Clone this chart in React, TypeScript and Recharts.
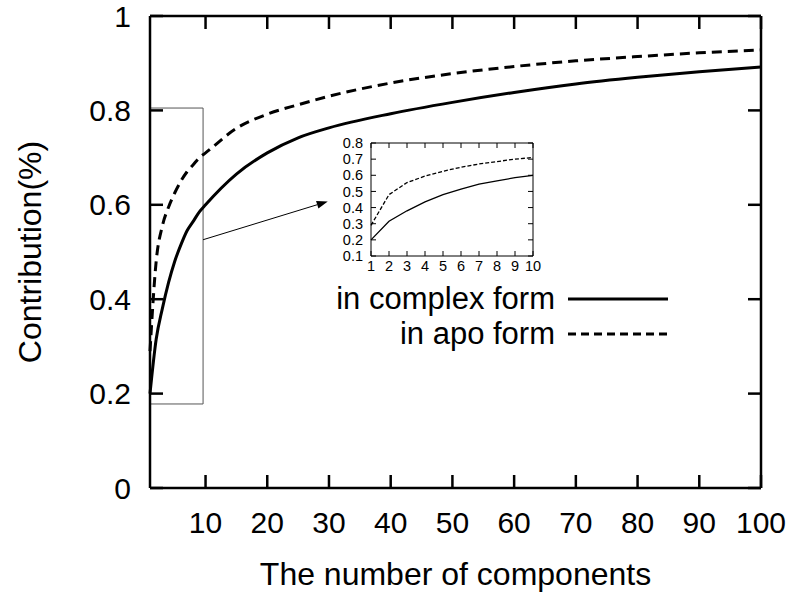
import {
  LineChart,
  Line,
  XAxis,
  YAxis,
  ReferenceArea,
  ReferenceLine,
} from "recharts"

const components = [1, 2, 3, 4, 5, 6, 7, 8, 9, 10, 15, 20, 25, 30, 40, 50, 60, 70, 80, 90, 100]
const complexForm = [0.2, 0.315, 0.38, 0.435, 0.48, 0.515, 0.545, 0.565, 0.585, 0.6, 0.665, 0.71, 0.742, 0.763, 0.793, 0.817, 0.838, 0.856, 0.87, 0.882, 0.892]
const apoForm = [0.29, 0.48, 0.555, 0.595, 0.625, 0.65, 0.67, 0.685, 0.7, 0.71, 0.762, 0.792, 0.812, 0.83, 0.858, 0.878, 0.893, 0.905, 0.914, 0.922, 0.928]

const xTicks = [10, 20, 30, 40, 50, 60, 70, 80, 90, 100]
const yTicks = [0, 0.2, 0.4, 0.6, 0.8, 1]

const insetXTicks = [1, 2, 3, 4, 5, 6, 7, 8, 9, 10]
const insetYTicks = [0.1, 0.2, 0.3, 0.4, 0.5, 0.6, 0.7, 0.8]

// zoom box and arrow, in data units of the main chart
const zoomBox = { x1: 1, x2: 9.6, y1: 0.178, y2: 0.805 }
const arrowFrom = { x: 9.6, y: 0.526 }
const arrowTo = { x: 29.8, y: 0.607 }

const legendItems = [
  { label: "in complex form", dash: undefined },
  { label: "in apo form", dash: "8 5" },
]

const data = components.map((n, i) => ({ n, complex: complexForm[i], apo: apoForm[i] }))
const insetData = data.filter((d) => d.n <= 10)

const FONT = "'Liberation Sans', Arial, Helvetica, sans-serif"

// plot frames (pixels) so the tick marks can be mirrored inward on all four sides
const MAIN = { left: 150, right: 761, top: 16, bottom: 488 }
const INSET = { left: 51, right: 213, top: 13, bottom: 126 }

function Arrow(props: any) {
  const { x1, y1, x2, y2 } = props
  const a = Math.atan2(y2 - y1, x2 - x1)
  const len = 11
  const w = 4
  const bx = x2 - len * Math.cos(a)
  const by = y2 - len * Math.sin(a)
  const p1 = `${bx + w * Math.sin(a)},${by - w * Math.cos(a)}`
  const p2 = `${bx - w * Math.sin(a)},${by + w * Math.cos(a)}`
  return (
    <g>
      <line x1={x1} y1={y1} x2={bx} y2={by} stroke="#000" strokeWidth={1} />
      <polygon points={`${x2},${y2} ${p1} ${p2}`} fill="#000" />
    </g>
  )
}

const xTick = (frame: typeof MAIN, len: number, size: number, sw: number) => (p: any) => (
  <g>
    <line x1={p.x} x2={p.x} y1={frame.bottom} y2={frame.bottom - len} stroke="#000" strokeWidth={sw} />
    <line x1={p.x} x2={p.x} y1={frame.top} y2={frame.top + len} stroke="#000" strokeWidth={sw} />
    <text x={p.x} y={p.y} dy="0.71em" textAnchor="middle" fontSize={size} fontFamily={FONT} fill="#000">
      {p.payload.value}
    </text>
  </g>
)

const yTick = (frame: typeof MAIN, len: number, size: number, sw: number) => (p: any) => (
  <g>
    <line x1={frame.left} x2={frame.left + len} y1={p.y} y2={p.y} stroke="#000" strokeWidth={sw} />
    <line x1={frame.right} x2={frame.right - len} y1={p.y} y2={p.y} stroke="#000" strokeWidth={sw} />
    <text x={p.x} y={p.y} dy="0.355em" textAnchor="end" fontSize={size} fontFamily={FONT} fill="#000">
      {p.payload.value}
    </text>
  </g>
)

function LegendBox() {
  return (
    <svg width={380} height={80} style={{ position: "absolute", left: 300, top: 280, fontFamily: FONT }}>
      {legendItems.map((it, i) => (
        <g key={it.label}>
          <text x={255} y={29 + i * 35} textAnchor="end" fontSize={31} fill="#000">
            {it.label}
          </text>
          <line x1={268} x2={368} y1={19 + i * 35} y2={19 + i * 35} stroke="#000" strokeWidth={3} strokeDasharray={it.dash} />
        </g>
      ))}
    </svg>
  )
}

export default function App() {
  const mainLine = { stroke: "#000", strokeWidth: 2.5 }
  const thinLine = { stroke: "#000", strokeWidth: 1 }
  return (
    <div style={{ position: "absolute", left: 0, top: 0, width: 797, height: 595, background: "#fff" }}>
      <LineChart width={797} height={595} data={data} margin={{ top: 15, right: 35, left: 0, bottom: 0 }}>
        <XAxis
          dataKey="n"
          type="number"
          domain={[1, 100]}
          ticks={xTicks}
          interval={0}
          height={107}
          tickSize={0}
          tickMargin={24}
          tickLine={false}
          tick={xTick(MAIN, 13, 30, 2.5)}
          axisLine={mainLine}
          label={{ value: "The number of components", position: "insideBottom", offset: 10, fill: "#000", fontSize: 32, fontFamily: FONT }}
        />
        <XAxis xAxisId="top" orientation="top" dataKey="n" type="number" domain={[1, 100]} height={1} tick={false} tickLine={false} axisLine={mainLine} />
        <YAxis
          type="number"
          domain={[0, 1]}
          ticks={yTicks}
          interval={0}
          width={150}
          tickSize={0}
          tickMargin={19}
          tickLine={false}
          tick={yTick(MAIN, 13, 30, 2.5)}
          axisLine={mainLine}
          label={{ value: "Contribution(%)", angle: -90, position: "insideLeft", offset: 30, textAnchor: "middle", fill: "#000", fontSize: 32, fontFamily: FONT }}
        />
        <YAxis yAxisId="right" orientation="right" type="number" domain={[0, 1]} width={1} tick={false} tickLine={false} axisLine={mainLine} />
        <ReferenceArea x1={zoomBox.x1} x2={zoomBox.x2} y1={zoomBox.y1} y2={zoomBox.y2} fill="none" fillOpacity={0} stroke="#555" strokeWidth={1} />
        <ReferenceLine segment={[arrowFrom, arrowTo]} shape={Arrow} />
        <Line dataKey="complex" type="monotone" stroke="#000" strokeWidth={3} dot={false} isAnimationActive={false} />
        <Line dataKey="apo" type="monotone" stroke="#000" strokeWidth={3} strokeDasharray="10 6" dot={false} isAnimationActive={false} />
      </LineChart>

      <LegendBox />

      <div style={{ position: "absolute", left: 320, top: 130 }}>
        <LineChart width={230} height={150} data={insetData} margin={{ top: 12, right: 16, left: 0, bottom: 0 }}>
          <XAxis
            dataKey="n"
            type="number"
            domain={[1, 10]}
            ticks={insetXTicks}
            interval={0}
            height={24}
            tickSize={0}
            tickMargin={5}
            tickLine={false}
            tick={xTick(INSET, 5, 14.5, 1)}
            axisLine={thinLine}
          />
          <XAxis xAxisId="top" orientation="top" dataKey="n" type="number" domain={[1, 10]} height={1} tick={false} tickLine={false} axisLine={thinLine} />
          <YAxis
            type="number"
            domain={[0.1, 0.8]}
            ticks={insetYTicks}
            interval={0}
            width={51}
            tickSize={0}
            tickMargin={8}
            tickLine={false}
            tick={yTick(INSET, 5, 14.5, 1)}
            axisLine={thinLine}
          />
          <YAxis yAxisId="right" orientation="right" type="number" domain={[0.1, 0.8]} width={1} tick={false} tickLine={false} axisLine={thinLine} />
          <Line dataKey="complex" type="linear" stroke="#000" strokeWidth={1.3} dot={false} isAnimationActive={false} />
          <Line dataKey="apo" type="linear" stroke="#000" strokeWidth={1.3} strokeDasharray="4 2" dot={false} isAnimationActive={false} />
        </LineChart>
      </div>
    </div>
  )
}
